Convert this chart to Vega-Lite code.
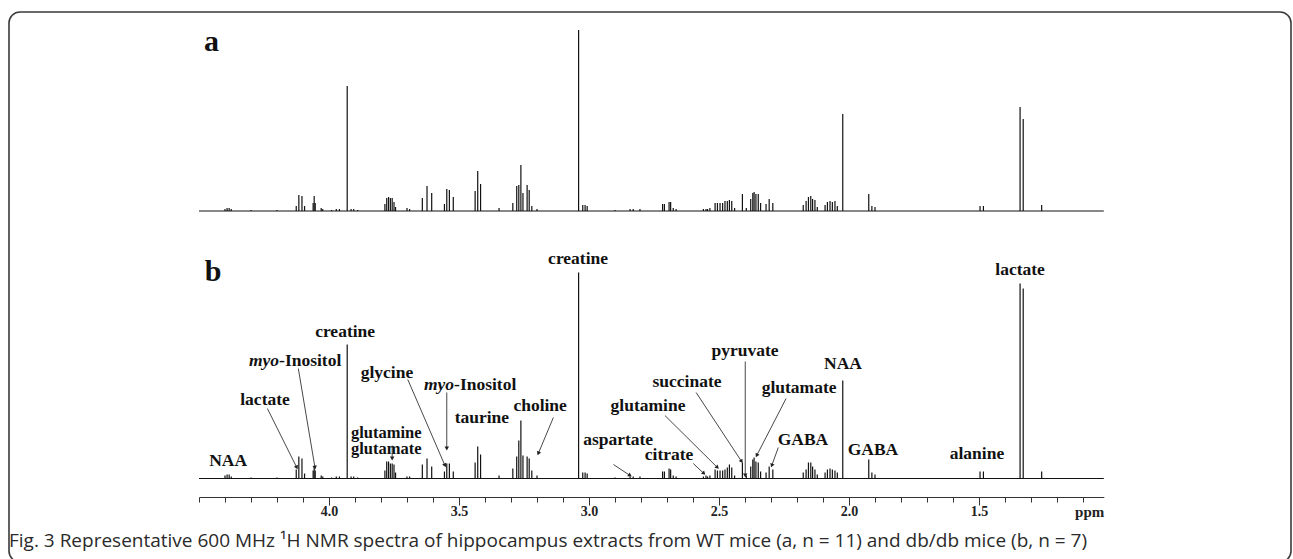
{
  "$schema": "https://vega.github.io/schema/vega-lite/v6.json",
  "width": 1293,
  "height": 559,
  "autosize": {"type": "fit", "contains": "padding"},
  "padding": {"left": 9, "top": 12, "right": 2, "bottom": -3},
  "background": "white",
  "config": {
    "view": {"stroke": "#3a3a3a", "strokeWidth": 1.6, "cornerRadius": 11, "fill": "white"}
  },
  "title": {
    "text": "Fig. 3 Representative 600 MHz ¹H NMR spectra of hippocampus extracts from WT mice (a, n = 11) and db/db mice (b, n = 7)",
    "orient": "bottom",
    "anchor": "start",
    "frame": "group",
    "offset": -21,
    "baseline": "middle",
    "font": "Open Sans",
    "fontSize": 19,
    "fontWeight": "normal",
    "color": "#2a2a2a"
  },
  "datasets": {
    "peaks": [
      {"p": 4.400, "a": 2, "b": 3}, {"p": 4.392, "a": 3, "b": 4}, {"p": 4.384, "a": 3, "b": 4}, {"p": 4.376, "a": 2, "b": 2},
      {"p": 4.300, "a": 1, "b": 1}, {"p": 4.200, "a": 1, "b": 1},
      {"p": 4.126, "a": 5, "b": 9}, {"p": 4.116, "a": 16, "b": 22}, {"p": 4.104, "a": 15, "b": 20}, {"p": 4.094, "a": 5, "b": 5},
      {"p": 4.061, "a": 8, "b": 8}, {"p": 4.057, "a": 15, "b": 12}, {"p": 4.053, "a": 8, "b": 8},
      {"p": 4.030, "a": 3, "b": 3}, {"p": 4.024, "a": 2, "b": 2}, {"p": 3.990, "a": 1, "b": 1}, {"p": 3.972, "a": 2, "b": 2}, {"p": 3.960, "a": 2, "b": 2},
      {"p": 3.930, "a": 125, "b": 134},
      {"p": 3.915, "a": 2, "b": 2}, {"p": 3.905, "a": 2, "b": 2}, {"p": 3.890, "a": 1, "b": 1},
      {"p": 3.785, "a": 7, "b": 8}, {"p": 3.778, "a": 13, "b": 17}, {"p": 3.771, "a": 14, "b": 17}, {"p": 3.764, "a": 13, "b": 15},
      {"p": 3.757, "a": 13, "b": 15}, {"p": 3.750, "a": 9, "b": 14}, {"p": 3.744, "a": 4, "b": 6},
      {"p": 3.700, "a": 3, "b": 2}, {"p": 3.690, "a": 2, "b": 2},
      {"p": 3.641, "a": 13, "b": 14}, {"p": 3.623, "a": 25, "b": 20}, {"p": 3.605, "a": 18, "b": 12},
      {"p": 3.556, "a": 7, "b": 7}, {"p": 3.547, "a": 22, "b": 15}, {"p": 3.537, "a": 21, "b": 15}, {"p": 3.522, "a": 14, "b": 7},
      {"p": 3.438, "a": 20, "b": 16}, {"p": 3.428, "a": 40, "b": 32}, {"p": 3.417, "a": 27, "b": 24},
      {"p": 3.346, "a": 3, "b": 3}, {"p": 3.293, "a": 8, "b": 10},
      {"p": 3.278, "a": 25, "b": 22}, {"p": 3.270, "a": 26, "b": 38}, {"p": 3.262, "a": 46, "b": 58}, {"p": 3.254, "a": 18, "b": 23},
      {"p": 3.238, "a": 26, "b": 22}, {"p": 3.230, "a": 21, "b": 20}, {"p": 3.220, "a": 5, "b": 8}, {"p": 3.200, "a": 2, "b": 3},
      {"p": 3.040, "a": 181, "b": 206},
      {"p": 3.024, "a": 6, "b": 6}, {"p": 3.015, "a": 6, "b": 6}, {"p": 3.007, "a": 5, "b": 5},
      {"p": 2.900, "a": 1, "b": 1}, {"p": 2.842, "a": 2, "b": 2}, {"p": 2.830, "a": 2, "b": 2}, {"p": 2.804, "a": 2, "b": 2},
      {"p": 2.717, "a": 7, "b": 7}, {"p": 2.710, "a": 7, "b": 7}, {"p": 2.692, "a": 9, "b": 10}, {"p": 2.686, "a": 9, "b": 9},
      {"p": 2.676, "a": 3, "b": 3}, {"p": 2.665, "a": 2, "b": 2},
      {"p": 2.560, "a": 2, "b": 2}, {"p": 2.550, "a": 2, "b": 3}, {"p": 2.544, "a": 2, "b": 2}, {"p": 2.535, "a": 3, "b": 3},
      {"p": 2.515, "a": 8, "b": 9}, {"p": 2.506, "a": 8, "b": 8}, {"p": 2.496, "a": 8, "b": 8}, {"p": 2.486, "a": 8, "b": 8},
      {"p": 2.477, "a": 10, "b": 9}, {"p": 2.468, "a": 10, "b": 11}, {"p": 2.460, "a": 11, "b": 14}, {"p": 2.451, "a": 10, "b": 11},
      {"p": 2.440, "a": 3, "b": 3},
      {"p": 2.410, "a": 17, "b": 16}, {"p": 2.395, "a": 3, "b": 3},
      {"p": 2.378, "a": 12, "b": 12}, {"p": 2.370, "a": 18, "b": 19}, {"p": 2.365, "a": 19, "b": 21}, {"p": 2.358, "a": 17, "b": 17},
      {"p": 2.349, "a": 17, "b": 16}, {"p": 2.340, "a": 8, "b": 7},
      {"p": 2.319, "a": 7, "b": 6}, {"p": 2.307, "a": 12, "b": 12}, {"p": 2.293, "a": 8, "b": 9},
      {"p": 2.176, "a": 6, "b": 6}, {"p": 2.165, "a": 10, "b": 9}, {"p": 2.156, "a": 14, "b": 16}, {"p": 2.147, "a": 15, "b": 16},
      {"p": 2.140, "a": 12, "b": 12}, {"p": 2.131, "a": 11, "b": 9}, {"p": 2.122, "a": 4, "b": 4},
      {"p": 2.092, "a": 6, "b": 6}, {"p": 2.083, "a": 9, "b": 9}, {"p": 2.073, "a": 10, "b": 10}, {"p": 2.064, "a": 9, "b": 9},
      {"p": 2.054, "a": 10, "b": 8}, {"p": 2.045, "a": 5, "b": 6},
      {"p": 2.024, "a": 97, "b": 98},
      {"p": 1.924, "a": 17, "b": 19}, {"p": 1.912, "a": 5, "b": 6}, {"p": 1.900, "a": 4, "b": 4},
      {"p": 1.496, "a": 5, "b": 7}, {"p": 1.483, "a": 5, "b": 7},
      {"p": 1.342, "a": 104, "b": 195}, {"p": 1.330, "a": 92, "b": 190},
      {"p": 1.259, "a": 6, "b": 7}
    ],
    "base": [{"p": 4.5, "p2": 1.02, "i": 0}],
    "panelA": [{"t": "a", "p": 4.481, "i": 160}],
    "panelB": [{"t": "b", "p": 4.478, "i": 198}],
    "labels": [
      {"t": "NAA", "p": 4.388, "i": 18},
      {"t": "lactate", "p": 4.246, "i": 79},
      {"t": "creatine", "p": 3.938, "i": 147},
      {"t": "glycine", "p": 3.777, "i": 106},
      {"t": "taurine", "p": 3.412, "i": 61},
      {"t": "choline", "p": 3.188, "i": 73},
      {"t": "creatine", "p": 3.042, "i": 220},
      {"t": "aspartate", "p": 2.888, "i": 39},
      {"t": "glutamine", "p": 2.773, "i": 73},
      {"t": "citrate", "p": 2.692, "i": 24},
      {"t": "succinate", "p": 2.623, "i": 97},
      {"t": "pyruvate", "p": 2.400, "i": 128},
      {"t": "glutamate", "p": 2.192, "i": 91},
      {"t": "NAA", "p": 2.023, "i": 115},
      {"t": "GABA", "p": 2.177, "i": 39},
      {"t": "GABA", "p": 1.908, "i": 29},
      {"t": "alanine", "p": 1.508, "i": 25},
      {"t": "lactate", "p": 1.342, "i": 209}
    ],
    "stacked": [{"t": ["glutamine", "glutamate"], "p": 3.780, "i": 46}],
    "myo": [
      {"p": 4.192, "i": 118},
      {"p": 3.519, "i": 94}
    ],
    "arrows": [
      {"n": "lactate", "p1": 4.237, "i1": 70, "p2": 4.124, "i2": 11},
      {"n": "myo-Inositol", "p1": 4.118, "i1": 110, "p2": 4.054, "i2": 11},
      {"n": "glutamine/glutamate", "p1": 3.757, "i1": 33, "p2": 3.757, "i2": 20},
      {"n": "glycine", "p1": 3.697, "i1": 99, "p2": 3.554, "i2": 13},
      {"n": "myo-Inositol", "p1": 3.547, "i1": 86, "p2": 3.547, "i2": 30},
      {"n": "choline", "p1": 3.137, "i1": 61, "p2": 3.195, "i2": 25},
      {"n": "aspartate", "p1": 2.906, "i1": 14, "p2": 2.842, "i2": 3},
      {"n": "citrate", "p1": 2.599, "i1": 15, "p2": 2.558, "i2": 5},
      {"n": "glutamine", "p1": 2.708, "i1": 63, "p2": 2.506, "i2": 11},
      {"n": "succinate", "p1": 2.588, "i1": 86, "p2": 2.413, "i2": 17},
      {"n": "pyruvate", "p1": 2.399, "i1": 117, "p2": 2.399, "i2": 3},
      {"n": "glutamate", "p1": 2.242, "i1": 80, "p2": 2.355, "i2": 23},
      {"n": "GABA", "p1": 2.272, "i1": 31, "p2": 2.297, "i2": 13}
    ]
  },
  "resolve": {"scale": {"y": "independent"}, "axis": {"x": "independent"}},
  "layer": [
    {
      "layer": [
        {
          "data": {"name": "base"},
          "mark": {"type": "rule", "color": "#111", "strokeWidth": 1},
          "encoding": {
            "x": {
              "field": "p", "type": "quantitative",
              "scale": {"domain": [1.02, 4.5], "reverse": true, "range": [190, 1094.8], "nice": false, "zero": false},
              "axis": {
                "orient": "bottom",
                "offset": -65,
                "values": [4.0, 3.5, 3.0, 2.5, 2.0, 1.5],
                "format": ".1f",
                "tickSize": 8,
                "tickColor": "#333",
                "tickWidth": 1,
                "domainColor": "#333",
                "domainWidth": 1.2,
                "grid": false,
                "labelFont": "Liberation Serif",
                "labelFontWeight": "bold",
                "labelFontSize": 14,
                "labelColor": "#222",
                "labelPadding": -1,
                "labelFlush": false,
                "labelOverlap": false,
                "title": "ppm",
                "titleFont": "Liberation Serif",
                "titleFontWeight": "bold",
                "titleFontSize": 15,
                "titleColor": "#222",
                "titleX": 1094.8,
                "titleAlign": "right",
                "titleBaseline": "middle",
                "titleY": 14
              }
            },
            "x2": {"field": "p2"},
            "y": {"field": "i", "type": "quantitative", "scale": {"domain": [-351, 199], "nice": false, "zero": false}, "axis": null}
          }
        },
        {
          "data": {"name": "peaks"},
          "mark": {"type": "rule", "color": "#111", "strokeWidth": 1.2},
          "encoding": {
            "x": {"field": "p", "type": "quantitative", "scale": {"domain": [1.02, 4.5], "reverse": true, "range": [190, 1094.8], "nice": false, "zero": false}},
            "y": {"field": "a", "type": "quantitative", "scale": {"domain": [-351, 199], "nice": false, "zero": false}, "axis": null},
            "y2": {"datum": 0}
          }
        },
        {
          "data": {"name": "panelA"},
          "mark": {"type": "text", "font": "Liberation Serif", "fontWeight": "bold", "fontSize": 30, "align": "left", "baseline": "alphabetic", "color": "#111"},
          "encoding": {
            "x": {"field": "p", "type": "quantitative", "scale": {"domain": [1.02, 4.5], "reverse": true, "range": [190, 1094.8], "nice": false, "zero": false}},
            "y": {"field": "i", "type": "quantitative", "scale": {"domain": [-351, 199], "nice": false, "zero": false}, "axis": null},
            "text": {"field": "t"}
          }
        }
      ]
    },
    {
      "layer": [
        {
          "data": {"name": "base"},
          "mark": {"type": "rule", "color": "#111", "strokeWidth": 1},
          "encoding": {
            "x": {
              "field": "p", "type": "quantitative",
              "scale": {"domain": [1.02, 4.5], "reverse": true, "range": [190, 1094.8], "nice": false, "zero": false},
              "axis": {
                "orient": "bottom",
                "offset": -65,
                "values": [4.5, 4.4, 4.3, 4.2, 4.1, 3.9, 3.8, 3.7, 3.6, 3.4, 3.3, 3.2, 3.1, 2.9, 2.8, 2.7, 2.6, 2.4, 2.3, 2.2, 2.1, 1.9, 1.8, 1.7, 1.6, 1.4, 1.3, 1.2, 1.1],
                "tickSize": 5,
                "tickColor": "#333",
                "tickWidth": 1,
                "domain": false,
                "labels": false,
                "grid": false,
                "title": null
              }
            },
            "x2": {"field": "p2"},
            "y": {"field": "i", "type": "quantitative", "scale": {"domain": [-83.5, 466.5], "nice": false, "zero": false}, "axis": null}
          }
        },
        {
          "data": {"name": "peaks"},
          "mark": {"type": "rule", "color": "#111", "strokeWidth": 1.2},
          "encoding": {
            "x": {"field": "p", "type": "quantitative", "scale": {"domain": [1.02, 4.5], "reverse": true, "range": [190, 1094.8], "nice": false, "zero": false}},
            "y": {"field": "b", "type": "quantitative", "scale": {"domain": [-83.5, 466.5], "nice": false, "zero": false}, "axis": null},
            "y2": {"datum": 0}
          }
        },
        {
          "data": {"name": "panelB"},
          "mark": {"type": "text", "font": "Liberation Serif", "fontWeight": "bold", "fontSize": 30, "align": "left", "baseline": "alphabetic", "color": "#111"},
          "encoding": {
            "x": {"field": "p", "type": "quantitative", "scale": {"domain": [1.02, 4.5], "reverse": true, "range": [190, 1094.8], "nice": false, "zero": false}},
            "y": {"field": "i", "type": "quantitative", "scale": {"domain": [-83.5, 466.5], "nice": false, "zero": false}, "axis": null},
            "text": {"field": "t"}
          }
        },
        {
          "data": {"name": "labels"},
          "mark": {"type": "text", "font": "Liberation Serif", "fontWeight": "bold", "fontSize": 17.5, "align": "center", "baseline": "middle", "color": "#111"},
          "encoding": {
            "x": {"field": "p", "type": "quantitative", "scale": {"domain": [1.02, 4.5], "reverse": true, "range": [190, 1094.8], "nice": false, "zero": false}},
            "y": {"field": "i", "type": "quantitative", "scale": {"domain": [-83.5, 466.5], "nice": false, "zero": false}, "axis": null},
            "text": {"field": "t"}
          }
        },
        {
          "data": {"name": "stacked"},
          "mark": {"type": "text", "font": "Liberation Serif", "fontWeight": "bold", "fontSize": 16.5, "lineHeight": 16.5, "align": "center", "baseline": "middle", "color": "#111"},
          "encoding": {
            "x": {"field": "p", "type": "quantitative", "scale": {"domain": [1.02, 4.5], "reverse": true, "range": [190, 1094.8], "nice": false, "zero": false}},
            "y": {"field": "i", "type": "quantitative", "scale": {"domain": [-83.5, 466.5], "nice": false, "zero": false}, "axis": null},
            "text": {"field": "t"}
          }
        },
        {
          "data": {"name": "myo"},
          "mark": {"type": "text", "font": "Liberation Serif", "fontWeight": "bold", "fontStyle": "italic", "fontSize": 17.5, "align": "right", "baseline": "middle", "color": "#111", "text": "myo"},
          "encoding": {
            "x": {"field": "p", "type": "quantitative", "scale": {"domain": [1.02, 4.5], "reverse": true, "range": [190, 1094.8], "nice": false, "zero": false}},
            "y": {"field": "i", "type": "quantitative", "scale": {"domain": [-83.5, 466.5], "nice": false, "zero": false}, "axis": null}
          }
        },
        {
          "data": {"name": "myo"},
          "mark": {"type": "text", "font": "Liberation Serif", "fontWeight": "bold", "fontSize": 17.5, "align": "left", "baseline": "middle", "color": "#111", "text": "-Inositol"},
          "encoding": {
            "x": {"field": "p", "type": "quantitative", "scale": {"domain": [1.02, 4.5], "reverse": true, "range": [190, 1094.8], "nice": false, "zero": false}},
            "y": {"field": "i", "type": "quantitative", "scale": {"domain": [-83.5, 466.5], "nice": false, "zero": false}, "axis": null}
          }
        },
        {
          "data": {"name": "arrows"},
          "mark": {"type": "rule", "color": "#333", "strokeWidth": 0.9},
          "encoding": {
            "x": {"field": "p1", "type": "quantitative", "scale": {"domain": [1.02, 4.5], "reverse": true, "range": [190, 1094.8], "nice": false, "zero": false}},
            "x2": {"field": "p2"},
            "y": {"field": "i1", "type": "quantitative", "scale": {"domain": [-83.5, 466.5], "nice": false, "zero": false}, "axis": null},
            "y2": {"field": "i2"}
          }
        },
        {
          "data": {"name": "arrows"},
          "transform": [
            {"calculate": "atan2((datum.p1 - datum.p2) * 260, datum.i2 - datum.i1) * 180 / PI", "as": "ang"}
          ],
          "mark": {"type": "point", "shape": "triangle-up", "filled": true, "size": 20, "color": "#222", "opacity": 1},
          "encoding": {
            "x": {"field": "p2", "type": "quantitative", "scale": {"domain": [1.02, 4.5], "reverse": true, "range": [190, 1094.8], "nice": false, "zero": false}},
            "y": {"field": "i2", "type": "quantitative", "scale": {"domain": [-83.5, 466.5], "nice": false, "zero": false}, "axis": null},
            "angle": {"field": "ang", "type": "quantitative", "scale": null}
          }
        }
      ]
    }
  ]
}
